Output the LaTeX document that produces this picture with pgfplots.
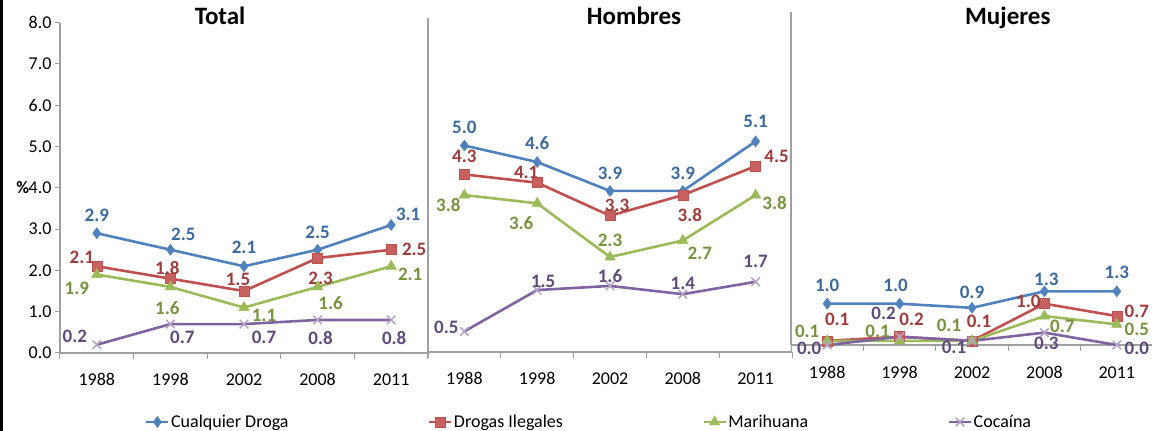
\documentclass[border=0pt]{standalone}
\usepackage{fontspec}
\setmainfont{Carlito}
\usepackage{pgfplots}
\pgfplotsset{compat=1.18}

\definecolor{cb}{HTML}{4F81BD}
\definecolor{cr}{HTML}{C0504D}
\definecolor{cg}{HTML}{9BBB59}
\definecolor{cp}{HTML}{8064A2}
\definecolor{lb}{HTML}{3B6AA0}
\definecolor{lr}{HTML}{A03C3A}
\definecolor{lg}{HTML}{77933C}
\definecolor{lp}{HTML}{604A7B}
\definecolor{axgray}{HTML}{A0A0A0}

\pgfplotsset{
  panel/.style={
    scale only axis, clip=false,
    xmin=-0.5, xmax=4.5, ymin=0,
    axis x line=bottom, axis y line=left,
    axis line style={-, draw=axgray, line width=1.2pt},
    xtick={0,...,4}, xticklabels={1988,1998,2002,2008,2011},
    major x tick style={draw=none},
    minor xtick={-0.5,0.5,1.5,2.5,3.5,4.5},
    tick align=outside,
    major tick length=5pt, minor tick length=6pt,
    every tick/.append style={draw=axgray, line width=1pt},
    tick label style={font=\fontsize{18}{20}\selectfont},
    xticklabel style={yshift=-12pt},
    /pgf/number format/assume math mode=true,
    title style={font=\fontsize{25}{28}\selectfont\bfseries, anchor=base},
  },
  lbl/.style={
    point meta=y,
    nodes near coords={\pgfmathprintnumber[fixed,fixed zerofill,precision=1,assume math mode=true]{\pgfplotspointmeta}},
    visualization depends on={value \thisrow{dx}\as\dx},
    visualization depends on={value \thisrow{dy}\as\dy},
    nodes near coords style={font=\fontsize{19}{21}\selectfont\bfseries, anchor=center, inner sep=0pt, xshift=\dx pt, yshift=\dy pt},
  },
  s1/.style={lbl, draw=cb, line width=2.6pt, mark=diamond*, mark size=5.5, mark options={fill=cb, draw=cb, line width=0.5pt}, nodes near coords style={text=lb}},
  s2/.style={lbl, draw=cr, line width=2.6pt, mark=square*, mark size=5, mark options={fill=cr!90!white, draw=cr, line width=0.5pt}, nodes near coords style={text=lr}},
  s3/.style={lbl, draw=cg, line width=2.6pt, mark=triangle*, mark size=6, mark options={fill=cg, draw=cg, line width=0.5pt}, nodes near coords style={text=lg}},
  s4/.style={lbl, draw=cp, line width=2.6pt, mark=x, mark size=6, mark options={draw=cp!60!white, line width=1.5pt}, nodes near coords style={text=lp}},
}

\begin{document}
\begin{tikzpicture}
\useasboundingbox (0pt,0pt) rectangle (1152pt,431pt);
\draw[black, line width=3pt] (1.5pt,0pt) -- (1.5pt,431pt);

% Total
\begin{axis}[panel, at={(60pt,78pt)}, anchor=south west,
  width=368pt, height=330.4pt, ymax=8,
  ytick={0,...,8},
  yticklabel style={/pgf/number format/.cd, fixed, fixed zerofill, precision=1},
  ylabel={\textbf{\%}},
  ylabel style={rotate=-90, at={(ticklabel cs:0.5)}, anchor=east, inner sep=0pt, xshift=4pt, font=\fontsize{17.5}{20}\selectfont},
  title={Total}, title style={at={(axis description cs:0.435,0.9746)}},
  legend columns=4,
  legend style={draw=none, fill=none, at={(axis description cs:0.231,-0.2088)}, anchor=west,
    font=\fontsize{18}{21}\selectfont, inner sep=0pt,
    nodes={inner sep=1.5pt},
    /tikz/every even column/.append style={column sep=138pt}},
  legend image code/.code={\draw[mark repeat=2,mark phase=2,line width=2.4pt] plot coordinates {(0pt,0pt)(11pt,0pt)(22pt,0pt)};},
]
\addplot[s1] table[row sep=\\] {x y dx dy\\ 0 2.9 0 18\\ 1 2.5 13 15\\ 2 2.1 0 19\\ 3 2.5 0 17\\ 4 3.1 17 11\\};
\addlegendentry{Cualquier Droga}
\addplot[s2] table[row sep=\\] {x y dx dy\\ 0 2.1 -15 9\\ 1 1.8 -3 11\\ 2 1.5 -6 12\\ 3 2.3 3 -20\\ 4 2.5 23 0\\};
\addlegendentry{Drogas Ilegales}
\addplot[s3] table[row sep=\\] {x y dx dy\\ 0 1.9 -20 -14\\ 1 1.6 -3 -21\\ 2 1.1 20 -8\\ 3 1.6 13 -16\\ 4 2.1 19 -8\\};
\addlegendentry{Marihuana}
\addplot[s4] table[row sep=\\] {x y dx dy\\ 0 0.2 -22 8\\ 1 0.7 12 -13\\ 2 0.7 20 -13\\ 3 0.8 3 -18\\ 4 0.8 3 -18\\};
\addlegendentry{Cocaína}
\end{axis}

% Hombres
\begin{axis}[panel, at={(428pt,79pt)}, anchor=south west,
  width=364pt, height=334.5pt, ymax=8.1, ytick=\empty,
  title={Hombres}, title style={at={(axis description cs:0.566,0.9626)}},
]
\addplot[s1] table[row sep=\\] {x y dx dy\\ 0 5.0 0 18\\ 1 4.6 0 19\\ 2 3.9 0 18\\ 3 3.9 0 18\\ 4 5.1 0 20\\};
\addplot[s2] table[row sep=\\] {x y dx dy\\ 0 4.3 0 18\\ 1 4.1 -11 10\\ 2 3.3 7 10\\ 3 3.8 7 -20\\ 4 4.5 21 10\\};
\addplot[s3] table[row sep=\\] {x y dx dy\\ 0 3.8 -16 -10\\ 1 3.6 -16 -20\\ 2 2.3 0 17\\ 3 2.7 17 -13\\ 4 3.8 19 -8\\};
\addplot[s4] table[row sep=\\] {x y dx dy\\ 0 0.5 -18 4\\ 1 1.5 6 9\\ 2 1.6 0 10\\ 3 1.4 0 11\\ 4 1.7 0 20\\};
\end{axis}

% Mujeres
\begin{axis}[panel, at={(791pt,86pt)}, anchor=south west,
  width=362pt, height=332.5pt, ymax=8.05, ytick=\empty,
  xticklabel style={yshift=-1pt},
  title={Mujeres}, title style={at={(axis description cs:0.599,0.947)}},
]
\addplot[s1] table[row sep=\\] {x y dx dy\\ 0 1.0 0 18\\ 1 1.0 -4 18\\ 2 0.9 0 15\\ 3 1.3 2 12\\ 4 1.3 0 19\\};
\addplot[s2] table[row sep=\\] {x y dx dy\\ 0 0.1 10 22\\ 1 0.2 12 17\\ 2 0.1 7 20\\ 3 1.0 -16 2\\ 4 0.7 20 5\\};
\addplot[s3] table[row sep=\\] {x y dx dy\\ 0 0.1 -20 10\\ 1 0.1 -22 10\\ 2 0.1 -23 16\\ 3 0.7 18 -10\\ 4 0.5 20 -5\\};
\addplot[s4] table[row sep=\\] {x y dx dy\\ 0 0.0 -18 -3\\ 1 0.2 -16 23\\ 2 0.1 -18 -6\\ 3 0.3 2 -11\\ 4 0.0 20 -3\\};
\end{axis}
\end{tikzpicture}
\end{document}
